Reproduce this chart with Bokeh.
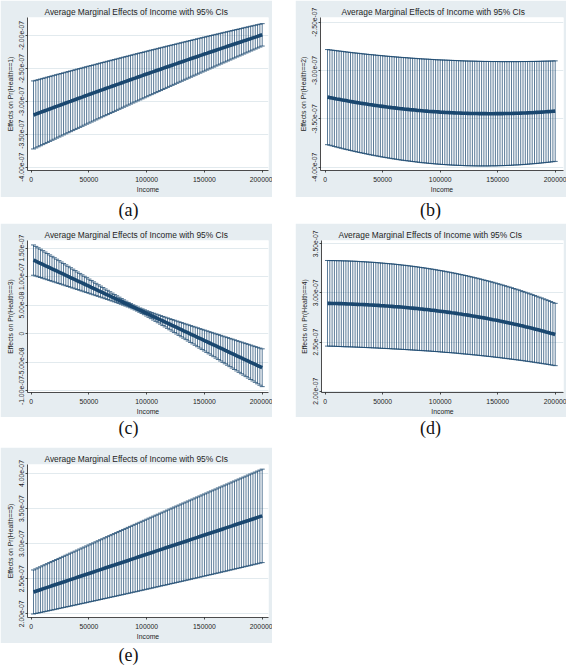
from bokeh.plotting import figure
from bokeh.models import ColumnDataSource, FixedTicker, Range1d, Spacer, Title
from bokeh.layouts import row, column
from bokeh.embed import file_html
from bokeh.resources import INLINE
from bokeh.core.properties import value

# ---------------- data (effects are in units of 1e-7) ----------------
SCALE = 1e-7

income = [
    2000, 4000, 6000, 8000, 10000, 12000, 14000, 16000, 18000, 20000,
    22000, 24000, 26000, 28000, 30000, 32000, 34000, 36000, 38000, 40000,
    42000, 44000, 46000, 48000, 50000, 52000, 54000, 56000, 58000, 60000,
    62000, 64000, 66000, 68000, 70000, 72000, 74000, 76000, 78000, 80000,
    82000, 84000, 86000, 88000, 90000, 92000, 94000, 96000, 98000, 100000,
    102000, 104000, 106000, 108000, 110000, 112000, 114000, 116000, 118000, 120000,
    122000, 124000, 126000, 128000, 130000, 132000, 134000, 136000, 138000, 140000,
    142000, 144000, 146000, 148000, 150000, 152000, 154000, 156000, 158000, 160000,
    162000, 164000, 166000, 168000, 170000, 172000, 174000, 176000, 178000, 180000,
    182000, 184000, 186000, 188000, 190000, 192000, 194000, 196000, 198000, 200000,
]

mean_a = [
    -3.207, -3.194, -3.181, -3.168, -3.155, -3.142, -3.129, -3.116, -3.103, -3.090,
    -3.077, -3.064, -3.051, -3.038, -3.025, -3.012, -3.000, -2.987, -2.974, -2.961,
    -2.948, -2.936, -2.923, -2.910, -2.897, -2.885, -2.872, -2.859, -2.847, -2.834,
    -2.822, -2.809, -2.796, -2.784, -2.771, -2.759, -2.746, -2.734, -2.721, -2.709,
    -2.696, -2.684, -2.671, -2.659, -2.647, -2.634, -2.622, -2.610, -2.597, -2.585,
    -2.573, -2.560, -2.548, -2.536, -2.524, -2.512, -2.499, -2.487, -2.475, -2.463,
    -2.451, -2.439, -2.427, -2.414, -2.402, -2.390, -2.378, -2.366, -2.354, -2.342,
    -2.330, -2.318, -2.306, -2.294, -2.282, -2.271, -2.259, -2.247, -2.235, -2.223,
    -2.211, -2.200, -2.188, -2.176, -2.164, -2.153, -2.141, -2.129, -2.117, -2.106,
    -2.094, -2.082, -2.071, -2.059, -2.048, -2.036, -2.025, -2.013, -2.001, -1.990,
]
upper_a = [
    -2.690, -2.681, -2.671, -2.662, -2.652, -2.643, -2.633, -2.624, -2.614, -2.605,
    -2.595, -2.586, -2.577, -2.567, -2.558, -2.548, -2.539, -2.530, -2.520, -2.511,
    -2.502, -2.493, -2.483, -2.474, -2.465, -2.456, -2.447, -2.438, -2.428, -2.419,
    -2.410, -2.401, -2.392, -2.383, -2.374, -2.365, -2.356, -2.347, -2.338, -2.329,
    -2.320, -2.311, -2.302, -2.293, -2.284, -2.275, -2.266, -2.258, -2.249, -2.240,
    -2.231, -2.222, -2.214, -2.205, -2.196, -2.187, -2.179, -2.170, -2.161, -2.153,
    -2.144, -2.136, -2.127, -2.118, -2.110, -2.101, -2.093, -2.084, -2.076, -2.067,
    -2.059, -2.050, -2.042, -2.033, -2.025, -2.017, -2.008, -2.000, -1.991, -1.983,
    -1.975, -1.967, -1.958, -1.950, -1.942, -1.934, -1.925, -1.917, -1.909, -1.901,
    -1.893, -1.884, -1.876, -1.868, -1.860, -1.852, -1.844, -1.836, -1.828, -1.820,
]
lower_a = [
    -3.723, -3.707, -3.690, -3.674, -3.657, -3.641, -3.624, -3.608, -3.591, -3.575,
    -3.558, -3.542, -3.526, -3.509, -3.493, -3.476, -3.460, -3.444, -3.427, -3.411,
    -3.395, -3.379, -3.362, -3.346, -3.330, -3.314, -3.298, -3.282, -3.265, -3.249,
    -3.233, -3.217, -3.201, -3.185, -3.169, -3.153, -3.137, -3.121, -3.105, -3.089,
    -3.073, -3.057, -3.041, -3.025, -3.009, -2.993, -2.978, -2.962, -2.946, -2.930,
    -2.914, -2.898, -2.883, -2.867, -2.851, -2.836, -2.820, -2.804, -2.788, -2.773,
    -2.757, -2.742, -2.726, -2.710, -2.695, -2.679, -2.664, -2.648, -2.633, -2.617,
    -2.602, -2.586, -2.571, -2.555, -2.540, -2.525, -2.509, -2.494, -2.479, -2.463,
    -2.448, -2.433, -2.417, -2.402, -2.387, -2.372, -2.356, -2.341, -2.326, -2.311,
    -2.296, -2.281, -2.265, -2.250, -2.235, -2.220, -2.205, -2.190, -2.175, -2.160,
]

mean_b = [
    -3.275, -3.280, -3.284, -3.289, -3.294, -3.298, -3.303, -3.307, -3.311, -3.316,
    -3.320, -3.324, -3.328, -3.332, -3.336, -3.340, -3.343, -3.347, -3.351, -3.354,
    -3.358, -3.361, -3.365, -3.368, -3.371, -3.374, -3.378, -3.381, -3.384, -3.386,
    -3.389, -3.392, -3.395, -3.397, -3.400, -3.402, -3.405, -3.407, -3.409, -3.412,
    -3.414, -3.416, -3.418, -3.420, -3.422, -3.423, -3.425, -3.427, -3.428, -3.430,
    -3.431, -3.433, -3.434, -3.435, -3.437, -3.438, -3.439, -3.440, -3.441, -3.442,
    -3.442, -3.443, -3.444, -3.444, -3.445, -3.445, -3.446, -3.446, -3.446, -3.446,
    -3.447, -3.447, -3.447, -3.446, -3.446, -3.446, -3.446, -3.445, -3.445, -3.444,
    -3.444, -3.443, -3.442, -3.442, -3.441, -3.440, -3.439, -3.438, -3.437, -3.436,
    -3.434, -3.433, -3.432, -3.430, -3.429, -3.427, -3.425, -3.424, -3.422, -3.420,
]
upper_b = [
    -2.783, -2.786, -2.789, -2.792, -2.795, -2.798, -2.801, -2.804, -2.807, -2.810,
    -2.813, -2.816, -2.818, -2.821, -2.823, -2.826, -2.829, -2.831, -2.834, -2.836,
    -2.838, -2.841, -2.843, -2.845, -2.847, -2.850, -2.852, -2.854, -2.856, -2.858,
    -2.860, -2.862, -2.864, -2.866, -2.867, -2.869, -2.871, -2.873, -2.874, -2.876,
    -2.878, -2.879, -2.881, -2.882, -2.883, -2.885, -2.886, -2.888, -2.889, -2.890,
    -2.891, -2.892, -2.893, -2.894, -2.895, -2.896, -2.897, -2.898, -2.899, -2.900,
    -2.901, -2.902, -2.902, -2.903, -2.903, -2.904, -2.905, -2.905, -2.906, -2.906,
    -2.906, -2.907, -2.907, -2.907, -2.907, -2.908, -2.908, -2.908, -2.908, -2.908,
    -2.908, -2.908, -2.908, -2.908, -2.907, -2.907, -2.907, -2.907, -2.906, -2.906,
    -2.906, -2.905, -2.905, -2.904, -2.903, -2.903, -2.902, -2.902, -2.901, -2.900,
]
lower_b = [
    -3.767, -3.773, -3.779, -3.786, -3.792, -3.798, -3.804, -3.810, -3.816, -3.821,
    -3.827, -3.832, -3.838, -3.843, -3.848, -3.853, -3.858, -3.863, -3.868, -3.873,
    -3.877, -3.882, -3.886, -3.891, -3.895, -3.899, -3.903, -3.907, -3.911, -3.915,
    -3.918, -3.922, -3.926, -3.929, -3.932, -3.935, -3.938, -3.941, -3.944, -3.947,
    -3.950, -3.953, -3.955, -3.957, -3.960, -3.962, -3.964, -3.966, -3.968, -3.970,
    -3.972, -3.973, -3.975, -3.976, -3.978, -3.979, -3.980, -3.981, -3.982, -3.983,
    -3.984, -3.985, -3.985, -3.986, -3.986, -3.987, -3.987, -3.987, -3.987, -3.987,
    -3.987, -3.986, -3.986, -3.986, -3.985, -3.984, -3.984, -3.983, -3.982, -3.981,
    -3.980, -3.978, -3.977, -3.976, -3.974, -3.973, -3.971, -3.969, -3.967, -3.965,
    -3.963, -3.961, -3.959, -3.956, -3.954, -3.951, -3.949, -3.946, -3.943, -3.940,
]

mean_c = [
    1.291, 1.272, 1.253, 1.234, 1.215, 1.195, 1.176, 1.157, 1.138, 1.119,
    1.100, 1.081, 1.062, 1.043, 1.024, 1.004, 0.985, 0.966, 0.947, 0.928,
    0.909, 0.890, 0.871, 0.852, 0.833, 0.813, 0.794, 0.775, 0.756, 0.737,
    0.718, 0.699, 0.680, 0.661, 0.642, 0.622, 0.603, 0.584, 0.565, 0.546,
    0.527, 0.508, 0.489, 0.470, 0.451, 0.431, 0.412, 0.393, 0.374, 0.355,
    0.336, 0.317, 0.298, 0.279, 0.260, 0.240, 0.221, 0.202, 0.183, 0.164,
    0.145, 0.126, 0.107, 0.088, 0.069, 0.049, 0.030, 0.011, -0.008, -0.027,
    -0.046, -0.065, -0.084, -0.103, -0.123, -0.142, -0.161, -0.180, -0.199, -0.218,
    -0.237, -0.256, -0.275, -0.294, -0.314, -0.333, -0.352, -0.371, -0.390, -0.409,
    -0.428, -0.447, -0.466, -0.485, -0.505, -0.524, -0.543, -0.562, -0.581, -0.600,
]
upper_c = [
    1.557, 1.532, 1.507, 1.482, 1.457, 1.432, 1.407, 1.382, 1.357, 1.332,
    1.307, 1.282, 1.257, 1.232, 1.207, 1.182, 1.157, 1.132, 1.107, 1.082,
    1.057, 1.032, 1.007, 0.982, 0.957, 0.933, 0.908, 0.883, 0.858, 0.834,
    0.809, 0.784, 0.760, 0.735, 0.711, 0.687, 0.663, 0.639, 0.615, 0.592,
    0.569, 0.547, 0.526, 0.505, 0.486, 0.467, 0.449, 0.433, 0.417, 0.401,
    0.386, 0.371, 0.357, 0.343, 0.329, 0.315, 0.301, 0.288, 0.274, 0.261,
    0.247, 0.234, 0.220, 0.207, 0.194, 0.180, 0.167, 0.154, 0.140, 0.127,
    0.114, 0.101, 0.087, 0.074, 0.061, 0.048, 0.034, 0.021, 0.008, -0.005,
    -0.018, -0.031, -0.045, -0.058, -0.071, -0.084, -0.097, -0.110, -0.124, -0.137,
    -0.150, -0.163, -0.176, -0.189, -0.202, -0.216, -0.229, -0.242, -0.255, -0.268,
]
lower_c = [
    1.025, 1.011, 0.998, 0.985, 0.972, 0.959, 0.946, 0.932, 0.919, 0.906,
    0.893, 0.880, 0.867, 0.853, 0.840, 0.827, 0.814, 0.800, 0.787, 0.774,
    0.761, 0.747, 0.734, 0.721, 0.708, 0.694, 0.681, 0.667, 0.654, 0.640,
    0.627, 0.613, 0.600, 0.586, 0.572, 0.558, 0.544, 0.530, 0.515, 0.500,
    0.484, 0.468, 0.452, 0.434, 0.415, 0.396, 0.375, 0.354, 0.332, 0.309,
    0.286, 0.262, 0.238, 0.214, 0.190, 0.166, 0.141, 0.117, 0.092, 0.067,
    0.043, 0.018, -0.007, -0.032, -0.057, -0.081, -0.106, -0.131, -0.156, -0.181,
    -0.206, -0.231, -0.256, -0.281, -0.306, -0.331, -0.356, -0.381, -0.406, -0.431,
    -0.456, -0.481, -0.506, -0.531, -0.556, -0.581, -0.606, -0.631, -0.656, -0.681,
    -0.706, -0.731, -0.756, -0.781, -0.807, -0.832, -0.857, -0.882, -0.907, -0.932,
]

mean_d = [
    2.894, 2.894, 2.893, 2.893, 2.892, 2.891, 2.891, 2.890, 2.889, 2.888,
    2.887, 2.886, 2.885, 2.884, 2.883, 2.882, 2.881, 2.880, 2.878, 2.877,
    2.876, 2.874, 2.873, 2.871, 2.870, 2.868, 2.867, 2.865, 2.863, 2.861,
    2.860, 2.858, 2.856, 2.854, 2.852, 2.850, 2.847, 2.845, 2.843, 2.841,
    2.838, 2.836, 2.833, 2.831, 2.828, 2.825, 2.823, 2.820, 2.817, 2.814,
    2.811, 2.808, 2.805, 2.802, 2.798, 2.795, 2.792, 2.788, 2.785, 2.781,
    2.778, 2.774, 2.770, 2.766, 2.762, 2.758, 2.754, 2.750, 2.746, 2.742,
    2.737, 2.733, 2.728, 2.724, 2.719, 2.714, 2.710, 2.705, 2.700, 2.695,
    2.690, 2.684, 2.679, 2.674, 2.668, 2.663, 2.657, 2.652, 2.646, 2.640,
    2.634, 2.628, 2.622, 2.616, 2.610, 2.603, 2.597, 2.590, 2.584, 2.577,
]
upper_d = [
    3.330, 3.329, 3.329, 3.329, 3.328, 3.328, 3.327, 3.326, 3.326, 3.325,
    3.324, 3.323, 3.322, 3.321, 3.319, 3.318, 3.317, 3.315, 3.314, 3.312,
    3.311, 3.309, 3.307, 3.305, 3.303, 3.301, 3.299, 3.297, 3.295, 3.293,
    3.290, 3.288, 3.285, 3.282, 3.280, 3.277, 3.274, 3.271, 3.268, 3.265,
    3.261, 3.258, 3.255, 3.251, 3.247, 3.244, 3.240, 3.236, 3.232, 3.228,
    3.224, 3.220, 3.215, 3.211, 3.206, 3.202, 3.197, 3.192, 3.187, 3.182,
    3.177, 3.172, 3.166, 3.161, 3.155, 3.150, 3.144, 3.138, 3.132, 3.126,
    3.120, 3.114, 3.108, 3.101, 3.094, 3.088, 3.081, 3.074, 3.067, 3.060,
    3.053, 3.045, 3.038, 3.031, 3.023, 3.015, 3.007, 2.999, 2.991, 2.983,
    2.974, 2.966, 2.957, 2.949, 2.940, 2.931, 2.922, 2.913, 2.903, 2.894,
]
lower_d = [
    2.459, 2.458, 2.458, 2.457, 2.456, 2.455, 2.454, 2.453, 2.452, 2.452,
    2.451, 2.450, 2.449, 2.448, 2.447, 2.446, 2.445, 2.444, 2.443, 2.442,
    2.441, 2.440, 2.439, 2.437, 2.436, 2.435, 2.434, 2.433, 2.431, 2.430,
    2.429, 2.428, 2.426, 2.425, 2.424, 2.422, 2.421, 2.419, 2.418, 2.416,
    2.415, 2.413, 2.412, 2.410, 2.409, 2.407, 2.405, 2.404, 2.402, 2.400,
    2.398, 2.396, 2.394, 2.393, 2.391, 2.389, 2.387, 2.385, 2.382, 2.380,
    2.378, 2.376, 2.374, 2.371, 2.369, 2.367, 2.364, 2.362, 2.359, 2.357,
    2.354, 2.352, 2.349, 2.346, 2.344, 2.341, 2.338, 2.335, 2.332, 2.329,
    2.326, 2.323, 2.320, 2.317, 2.314, 2.311, 2.307, 2.304, 2.301, 2.297,
    2.294, 2.290, 2.287, 2.283, 2.279, 2.276, 2.272, 2.268, 2.264, 2.260,
]

mean_e = [
    2.311, 2.322, 2.333, 2.344, 2.355, 2.366, 2.377, 2.388, 2.399, 2.410,
    2.421, 2.432, 2.443, 2.454, 2.465, 2.476, 2.487, 2.498, 2.509, 2.520,
    2.531, 2.542, 2.553, 2.564, 2.575, 2.586, 2.597, 2.608, 2.619, 2.630,
    2.641, 2.652, 2.663, 2.674, 2.685, 2.695, 2.706, 2.717, 2.728, 2.739,
    2.750, 2.761, 2.772, 2.783, 2.794, 2.805, 2.816, 2.827, 2.838, 2.849,
    2.860, 2.871, 2.882, 2.893, 2.904, 2.915, 2.926, 2.937, 2.948, 2.959,
    2.970, 2.980, 2.991, 3.002, 3.013, 3.024, 3.035, 3.046, 3.057, 3.068,
    3.079, 3.090, 3.101, 3.112, 3.123, 3.134, 3.145, 3.156, 3.167, 3.177,
    3.188, 3.199, 3.210, 3.221, 3.232, 3.243, 3.254, 3.265, 3.276, 3.287,
    3.298, 3.309, 3.320, 3.330, 3.341, 3.352, 3.363, 3.374, 3.385, 3.396,
]
upper_e = [
    2.625, 2.640, 2.655, 2.670, 2.685, 2.700, 2.715, 2.730, 2.745, 2.760,
    2.774, 2.789, 2.804, 2.819, 2.834, 2.849, 2.864, 2.878, 2.893, 2.908,
    2.923, 2.938, 2.952, 2.967, 2.982, 2.997, 3.011, 3.026, 3.041, 3.056,
    3.070, 3.085, 3.100, 3.114, 3.129, 3.144, 3.158, 3.173, 3.188, 3.202,
    3.217, 3.232, 3.246, 3.261, 3.275, 3.290, 3.304, 3.319, 3.333, 3.348,
    3.363, 3.377, 3.392, 3.406, 3.420, 3.435, 3.449, 3.464, 3.478, 3.493,
    3.507, 3.522, 3.536, 3.550, 3.565, 3.579, 3.593, 3.608, 3.622, 3.636,
    3.651, 3.665, 3.679, 3.694, 3.708, 3.722, 3.737, 3.751, 3.765, 3.779,
    3.794, 3.808, 3.822, 3.836, 3.850, 3.864, 3.879, 3.893, 3.907, 3.921,
    3.935, 3.949, 3.963, 3.978, 3.992, 4.006, 4.020, 4.034, 4.048, 4.062,
]
lower_e = [
    1.997, 2.004, 2.011, 2.018, 2.025, 2.032, 2.039, 2.046, 2.053, 2.060,
    2.067, 2.075, 2.082, 2.089, 2.096, 2.103, 2.110, 2.117, 2.124, 2.132,
    2.139, 2.146, 2.153, 2.160, 2.168, 2.175, 2.182, 2.189, 2.196, 2.204,
    2.211, 2.218, 2.225, 2.233, 2.240, 2.247, 2.254, 2.262, 2.269, 2.276,
    2.284, 2.291, 2.298, 2.306, 2.313, 2.320, 2.328, 2.335, 2.343, 2.350,
    2.357, 2.365, 2.372, 2.380, 2.387, 2.395, 2.402, 2.409, 2.417, 2.424,
    2.432, 2.439, 2.447, 2.454, 2.462, 2.469, 2.477, 2.484, 2.492, 2.500,
    2.507, 2.515, 2.522, 2.530, 2.538, 2.545, 2.553, 2.560, 2.568, 2.576,
    2.583, 2.591, 2.599, 2.606, 2.614, 2.622, 2.629, 2.637, 2.645, 2.652,
    2.660, 2.668, 2.676, 2.683, 2.691, 2.699, 2.707, 2.714, 2.722, 2.730,
]

x_ticks = [0, 50000, 100000, 150000, 200000]
x_tick_labels = ["0", "50000", "100000", "150000", "200000"]

y_ticks_a = [-4.0, -3.5, -3.0, -2.5, -2.0]
y_labels_a = ["-4.00e-07", "-3.50e-07", "-3.00e-07", "-2.50e-07", "-2.00e-07"]
y_ticks_b = [-4.0, -3.5, -3.0, -2.5]
y_labels_b = ["-4.00e-07", "-3.50e-07", "-3.00e-07", "-2.50e-07"]
y_ticks_c = [-1.0, -0.5, 0.0, 0.5, 1.0, 1.5]
y_labels_c = ["-1.00e-07", "-5.00e-08", "0", "5.00e-08", "1.00e-07", "1.50e-07"]
y_ticks_d = [2.0, 2.5, 3.0, 3.5]
y_labels_d = ["2.00e-07", "2.50e-07", "3.00e-07", "3.50e-07"]
y_ticks_e = [2.0, 2.5, 3.0, 3.5, 4.0]
y_labels_e = ["2.00e-07", "2.50e-07", "3.00e-07", "3.50e-07", "4.00e-07"]

title_text = "Average Marginal Effects of Income with 95% CIs"
x_axis_title = "Income"
y_axis_titles = ["Effects on Pr(Health==1)", "Effects on Pr(Health==2)",
                 "Effects on Pr(Health==3)", "Effects on Pr(Health==4)",
                 "Effects on Pr(Health==5)"]
captions = ["(a)", "(b)", "(c)", "(d)", "(e)"]

# ---------------- style ----------------
NAVY = "#1A476F"
BG = "#E6EDF1"
GRID = "#E2EAEE"
INK = "#1E1E1E"
SANS = "Liberation Sans"
SERIF = "Liberation Serif"


def make_panel(size, borders, xr, yr, mean, lower, upper, yticks, ylabels,
               ytitle, title_offset):
    w, h = size
    bl, bt, br, bb = borders
    p = figure(width=w, height=h, output_backend="svg", toolbar_location=None,
               title=None,
               x_range=Range1d(xr[0], xr[1]),
               y_range=Range1d(yr[0] * SCALE, yr[1] * SCALE),
               min_border_left=bl, min_border_top=bt,
               min_border_right=br, min_border_bottom=bb)
    p.background_fill_color = "white"
    p.border_fill_color = BG
    p.outline_line_color = None

    xa = p.xaxis[0]
    ya = p.yaxis[0]
    for ax in (xa, ya):
        ax.axis_line_color = INK
        ax.axis_line_width = 0.8
        ax.major_tick_line_color = INK
        ax.major_tick_line_width = 0.8
        ax.major_tick_in = 0
        ax.major_tick_out = 2
        ax.minor_tick_line_color = None
        ax.major_label_text_font = SANS
        ax.major_label_text_font_size = "6.8px"
        ax.major_label_text_color = INK
        ax.axis_label_text_font = SANS
        ax.axis_label_text_font_size = "6.8px"
        ax.axis_label_text_font_style = "normal"
        ax.axis_label_text_color = INK

    xa.ticker = FixedTicker(ticks=x_ticks)
    xa.major_label_overrides = dict(zip(x_ticks, x_tick_labels))
    xa.axis_label = x_axis_title
    xa.major_label_standoff = 4
    xa.axis_label_standoff = 1

    yt = [t * SCALE for t in yticks]
    yticker = FixedTicker(ticks=yt)
    ya.ticker = yticker
    ya.major_label_overrides = dict(zip(yt, ylabels))
    ya.major_label_orientation = "vertical"
    ya.axis_label = ytitle
    ya.major_label_standoff = 1
    ya.axis_label_standoff = 3

    p.xgrid.visible = False
    p.ygrid.ticker = yticker
    p.ygrid.grid_line_color = GRID
    p.ygrid.grid_line_width = 1

    src = ColumnDataSource(dict(
        x=income,
        m=[v * SCALE for v in mean],
        lo=[v * SCALE for v in lower],
        hi=[v * SCALE for v in upper],
    ))
    p.segment(x0="x", y0="lo", x1="x", y1="hi", source=src,
              line_color=NAVY, line_width=0.8, line_alpha=0.9)
    p.scatter(x="x", y="hi", source=src, marker="dash", size=5,
              line_color=NAVY, line_width=0.8)
    p.scatter(x="x", y="lo", source=src, marker="dash", size=5,
              line_color=NAVY, line_width=0.8)
    p.line(x="x", y="m", source=src, line_color=NAVY, line_width=3.6)

    p.add_layout(Title(text=title_text, align="left", offset=title_offset,
                       vertical_align="bottom", standoff=2,
                       text_font=SANS, text_font_size="8.4px",
                       text_font_style="normal", text_color=INK), "above")
    return p


def make_caption(h, xs, ys, texts):
    p = figure(width=566, height=h, output_backend="svg", toolbar_location=None,
               title=None, x_range=Range1d(0, 566), y_range=Range1d(h, 0),
               x_axis_location=None, y_axis_location=None, min_border=0)
    p.outline_line_color = None
    p.background_fill_color = "white"
    p.border_fill_color = "white"
    p.grid.visible = False
    p.text(x=xs, y=ys, text=texts, text_align="center", text_baseline="middle",
           text_font=value(SERIF), text_font_size="18px", text_color="#111111")
    return p


XR_L = (-3203, 205455)
pa = make_panel((272, 197), (27, 17, 4, 27), XR_L, (-4.0501, -1.7267),
                mean_a, lower_a, upper_a, y_ticks_a, y_labels_a,
                y_axis_titles[0], 17)
pb = make_panel((271, 197), (25, 17, 3, 27), (-4087, 207217), (-4.0341, -2.4514),
                mean_b, lower_b, upper_b, y_ticks_b, y_labels_b,
                y_axis_titles[1], 21)
pc = make_panel((272, 194), (27, 17, 4, 25), XR_L, (-1.0351, 1.6353),
                mean_c, lower_c, upper_c, y_ticks_c, y_labels_c,
                y_axis_titles[2], 17)
pd_ = make_panel((271, 194), (26, 17, 3, 24), (-3217, 207217), (1.9869, 3.5334),
                 mean_d, lower_d, upper_d, y_ticks_d, y_labels_d,
                 y_axis_titles[3], 17)
pe = make_panel((272, 196), (27, 17, 4, 26), XR_L, (1.9473, 4.1283),
                mean_e, lower_e, upper_e, y_ticks_e, y_labels_e,
                y_axis_titles[4], 17)

cap1 = make_caption(26, [128, 430], [12, 12], captions[0:2])
cap2 = make_caption(30, [128, 430], [10, 10], captions[2:4])
cap3 = make_caption(23, [128], [11], captions[4:5])

layout = column(
    row(pa, Spacer(width=23, height=197), pb),
    cap1,
    row(pc, Spacer(width=23, height=194), pd_),
    cap2,
    row(pe, Spacer(width=294, height=196)),
    cap3,
)

open("out.html", "w").write(file_html(layout, INLINE))
